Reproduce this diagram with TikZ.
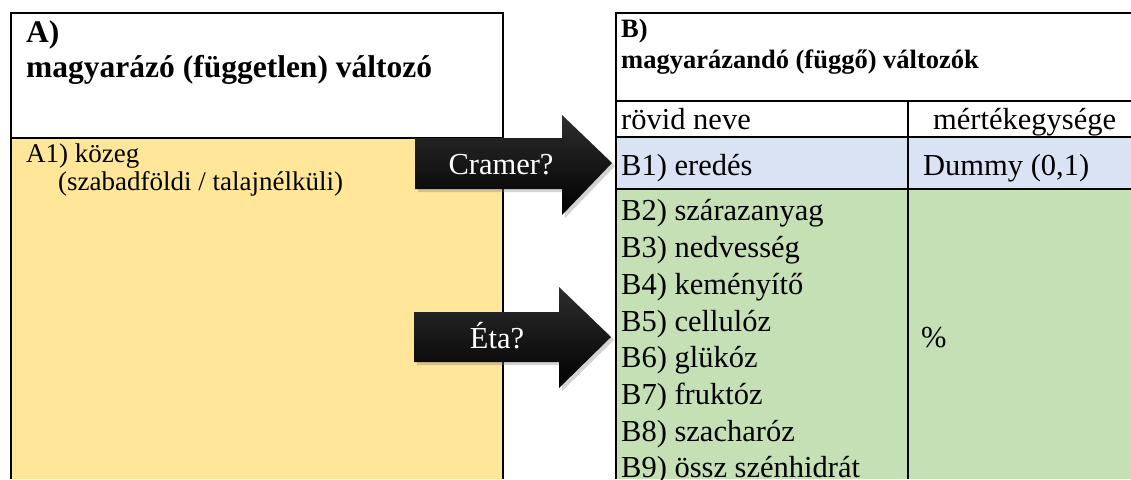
\documentclass[tikz,border=0pt]{standalone}
\usepackage{fontspec}
\setmainfont{Liberation Serif}
\usetikzlibrary{shadows}
\definecolor{kozeg}{HTML}{FFE699}
\definecolor{eredes}{HTML}{DAE3F3}
\definecolor{szazalek}{HTML}{C5E0B4}
\tikzset{
  rule/.style={draw=black, line width=1.8pt},
  cim/.style={anchor=base west, inner sep=0pt, font=\bfseries\fontsize{31.5}{36}\selectfont},
  kiscim/.style={anchor=base west, inner sep=0pt, font=\bfseries\fontsize{26.5}{30}\selectfont},
  szoveg/.style={anchor=base west, inner sep=0pt, font=\fontsize{30.5}{36.7}\selectfont},
  kozegszoveg/.style={anchor=base west, inner sep=0pt, font=\fontsize{27}{28}\selectfont},
  nyil/.style={top color=black!82, middle color=black, bottom color=black,
    drop shadow={opacity=0.35, shadow xshift=3pt, shadow yshift=-3pt}},
  nyilszoveg/.style={anchor=base, inner sep=0pt, text=white, font=\fontsize{30.5}{36}\selectfont}
}
\begin{document}
\begin{tikzpicture}[x=1pt, y=-1pt]
  \useasboundingbox (0,0) rectangle (1131,479);
  % A) tabla
  \fill[kozeg] (11,138) rectangle (503,479);
  \draw[rule] (11,479) -- (11,13) -- (503,13) -- (503,479);
  \draw[rule] (11,138) -- (503,138);
  \node[cim] (a) at (26,42) {A)};
  \node[cim] (acim) at (26,77) {magyarázó (független) változó};
  \node[kozegszoveg] (a1) at (26,162) {A1) közeg};
  \node[kozegszoveg] (a1b) at (58,190) {(szabadföldi / talajnélküli)};
  % B) tabla
  \fill[eredes] (616,137) rectangle (1131,189);
  \fill[szazalek] (616,189) rectangle (1131,479);
  \begin{scope}[rule]
    \draw (616,479) -- (616,13) -- (1131,13);
    \draw (616,101) -- (1131,101);
    \draw (616,137) -- (1131,137);
    \draw (616,189) -- (1131,189);
    \draw (908,101) -- (908,479);
  \end{scope}
  \node[kiscim] (b) at (621,37) {B)};
  \node[kiscim] (bcim) at (621,68) {magyarázandó (függő) változók};
  \node[szoveg] (nev) at (621,129) {rövid neve};
  \node[szoveg] (egyseg) at (933,129) {mértékegysége};
  \node[szoveg] (b1) at (621,175) {B1) eredés};
  \node[szoveg] (dummy) at (923,175) {Dummy (0,1)};
  \node[szoveg, align=left, anchor=north west] (blista) at (621,199.5)
    {B2) szárazanyag\\B3) nedvesség\\B4) keményítő\\B5) cellulóz\\B6) glükóz\\B7) fruktóz\\B8) szacharóz\\B9) össz szénhidrát};
  \node[szoveg] (szazalek) at (921,347) {\%};
  % nyilak
  \path[nyil] (415,138) -- (562,138) -- (562,115) -- (612,163) -- (562,215)
    -- (562,189) -- (415,189) -- cycle;
  \node[nyilszoveg] (cramer) at (501,174) {Cramer?};
  \path[nyil] (414,312) -- (559,312) -- (559,287) -- (611,337) -- (559,388)
    -- (559,362) -- (414,362) -- cycle;
  \node[nyilszoveg] (eta) at (497,348) {Éta?};
\end{tikzpicture}
\end{document}
